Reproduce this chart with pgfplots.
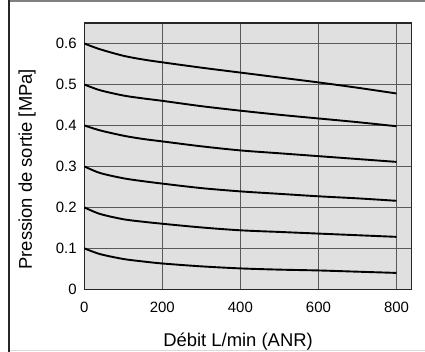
\documentclass[border=0pt]{standalone}
\usepackage{fontspec}
\setmainfont{Liberation Sans}
\usepackage{pgfplots}
\pgfplotsset{compat=1.18}
\begin{document}
\begin{tikzpicture}
\begin{axis}[
  name=ax,
  scale only axis,
  width=327bp, height=266.3bp,
  xmin=0, xmax=838, ymin=0, ymax=0.65,
  xtick={0,200,400,600,800},
  xticklabels={0,200,400,600,800},
  ytick={0,0.1,0.2,0.3,0.4,0.5,0.6},
  yticklabels={0,0.1,0.2,0.3,0.4,0.5,0.6},
  /pgf/number format/assume math mode=true,
  major tick length=0pt,
  grid=major,
  grid style={black!65, line width=0.9bp},
  axis line style={black!85, line width=1.3bp},
  axis background/.style={fill=black!12},
  tick label style={font=\fontsize{15}{17}\selectfont},
  xticklabel style={anchor=north, inner sep=0pt, yshift=-12.5bp},
  yticklabel style={anchor=east, inner sep=0pt, xshift=-7.5bp},
  xlabel={Débit L/min (ANR)},
  ylabel={Pression de sortie [MPa]},
  label style={font=\fontsize{18.5}{21}\selectfont},
  xlabel style={at={([yshift=-56.7bp]axis cs:394,0)}, anchor=base, inner sep=0pt},
  ylabel style={at={([xshift=-52.3bp]axis cs:0,0.293)}, anchor=base, rotate=0, inner sep=0pt},
  every axis plot post/.append style={black, solid, line width=1.9bp, smooth, tension=0.5, mark=none},
]
\addplot coordinates {(0,0.6)(40,0.586)(100,0.570)(150,0.561)(200,0.554)(300,0.541)(400,0.529)(500,0.517)(600,0.505)(700,0.492)(800,0.478)};
\addplot coordinates {(0,0.5)(40,0.486)(100,0.473)(150,0.466)(200,0.460)(300,0.447)(400,0.436)(500,0.426)(600,0.417)(700,0.408)(800,0.398)};
\addplot coordinates {(0,0.4)(40,0.388)(100,0.375)(150,0.367)(200,0.361)(300,0.349)(400,0.339)(500,0.332)(600,0.325)(700,0.318)(800,0.311)};
\addplot coordinates {(0,0.3)(40,0.284)(100,0.271)(150,0.264)(200,0.258)(300,0.247)(400,0.239)(500,0.233)(600,0.227)(700,0.222)(800,0.216)};
\addplot coordinates {(0,0.2)(40,0.184)(100,0.171)(150,0.165)(200,0.160)(300,0.151)(400,0.144)(500,0.140)(600,0.136)(700,0.132)(800,0.128)};
\addplot coordinates {(0,0.1)(40,0.086)(100,0.074)(150,0.068)(200,0.063)(300,0.056)(400,0.051)(500,0.048)(600,0.046)(700,0.043)(800,0.040)};
\end{axis}
\begin{scope}[shift={(ax.south west)}]
  \draw[black!50, line width=1.5bp] (-75.3bp,288.3bp) -- (340.7bp,288.3bp);
  \draw[black!15, line width=1.5bp] (-75.3bp,-61.2bp) -- (340.7bp,-61.2bp);
  \draw[black!85, line width=2bp] (-75.3bp,289bp) -- (-75.3bp,-62.7bp);
  \pgfresetboundingbox
  \path (-84.3bp,-62.7bp) rectangle (340.7bp,289.3bp);
\end{scope}
\end{tikzpicture}
\end{document}
